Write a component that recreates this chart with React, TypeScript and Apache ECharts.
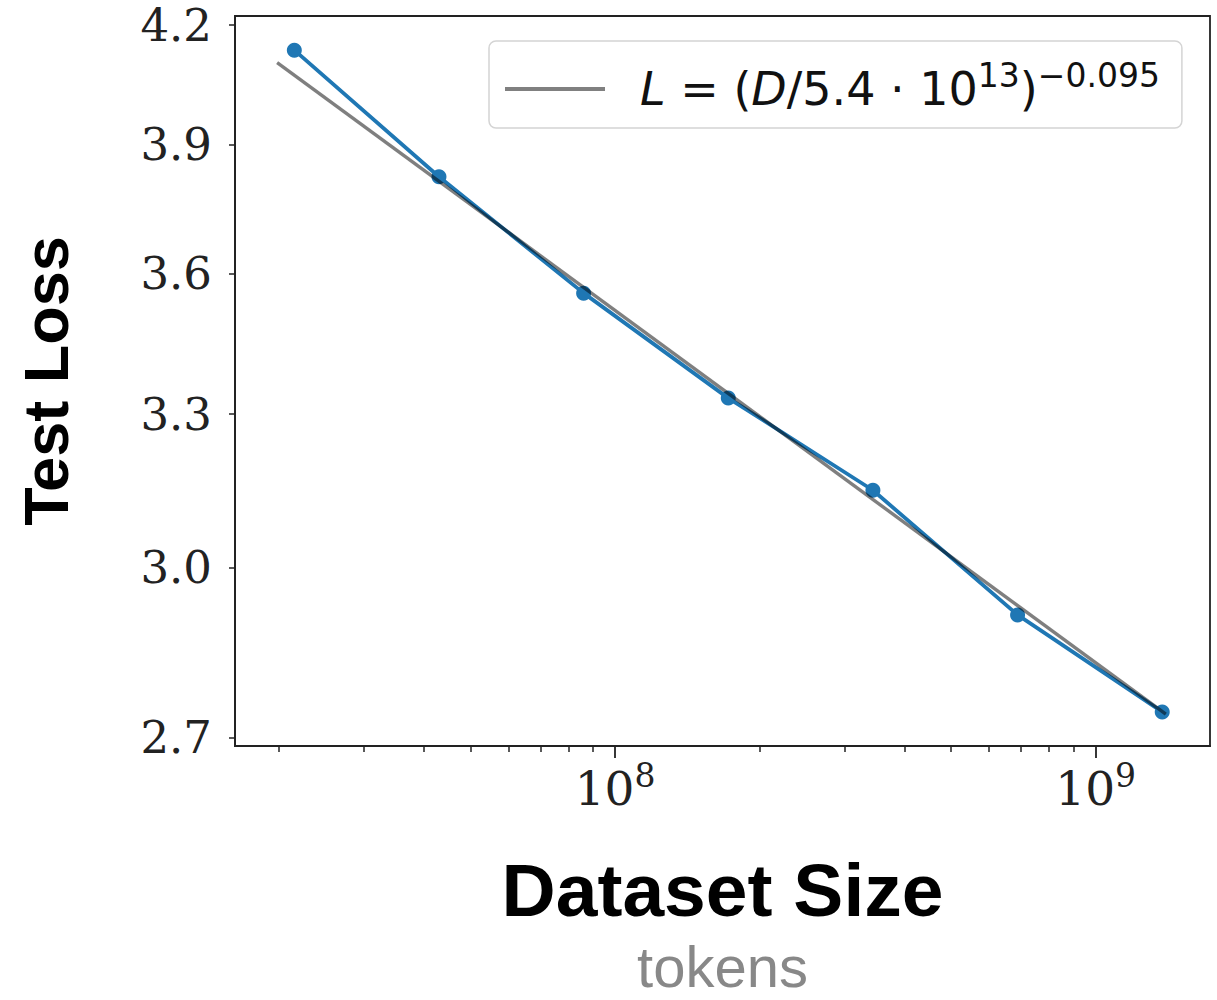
import React, { useEffect, useRef } from "react";
import * as echarts from "echarts";

// Measured points (dataset size in tokens, test loss)
const datasetTokens = [2.15e7, 4.3e7, 8.6e7, 1.72e8, 3.44e8, 6.88e8, 1.376e9];
const testLoss = [4.135, 3.823, 3.557, 3.333, 3.148, 2.914, 2.744];

// Power-law fit line endpoints
const fitTokens = [1.98e7, 1.4e9];
const fitLoss = [4.103, 2.74];

// Axis ticks
const yTickValues = [2.7, 3.0, 3.3, 3.6, 3.9, 4.2];
const xMajorTicks = [1e8, 1e9];
const xMinorTicks = [
  2e7, 3e7, 4e7, 5e7, 6e7, 7e7, 8e7, 9e7,
  2e8, 3e8, 4e8, 5e8, 6e8, 7e8, 8e8, 9e8,
];

const fitName = "L = (D/5.4 · 10^13)^−0.095";
const xTitle = "Dataset Size";
const xSubTitle = "tokens";
const yTitle = "Test Loss";

export default function App() {
  const ref = useRef<HTMLDivElement>(null);

  useEffect(() => {
    document.body.style.margin = "0";
    const chart = echarts.init(ref.current!, null, { renderer: "svg" });

    const xMin = 1.618e7;
    const xMax = 1.73e9;
    const yMin = 2.6866;
    const yMax = 4.2235;

    const serif = "DejaVu Serif";
    const sans = "Liberation Sans";

    const option: any = {
      animation: false,
      backgroundColor: "#ffffff",
      grid: {
        left: 235,
        top: 16,
        width: 975,
        height: 730,
        show: true,
        borderColor: "#222222",
        borderWidth: 1.8,
        backgroundColor: "transparent",
        containLabel: false,
        outerBoundsMode: "none",
      },
      legend: {
        show: true,
        data: [{ name: fitName, icon: "rect" }],
        left: 489,
        top: 41,
        orient: "horizontal",
        backgroundColor: "#ffffff",
        borderColor: "#d4d4d4",
        borderWidth: 1.5,
        borderRadius: 7,
        padding: [18, 22, 16, 16],
        itemWidth: 100,
        itemHeight: 4,
        selectedMode: false,
        itemStyle: { color: "#808080", borderWidth: 0 },
        formatter: () =>
          "{g|}{i|L}{m| = (}{i|D}{m|/5.4 · 10}{s|13}{m|)}{s|−0.095}",
        textStyle: {
          rich: {
            g: { width: 30 },
            m: { fontFamily: "DejaVu Sans", fontSize: 46, color: "#111", lineHeight: 60 },
            i: {
              fontFamily: "DejaVu Sans",
              fontSize: 46,
              fontStyle: "italic",
              color: "#111",
              lineHeight: 60,
            },
            s: {
              fontFamily: "DejaVu Sans",
              fontSize: 33,
              color: "#111",
              verticalAlign: "top",
              lineHeight: 32,
            },
          },
        },
      },
      xAxis: [
        {
          type: "log",
          logBase: 10,
          min: xMin,
          max: xMax,
          position: "bottom",
          name: "{a|" + xTitle + "}\n{b|" + xSubTitle + "}",
          nameLocation: "middle",
          nameGap: 100,
          nameTextStyle: {
            rich: {
              a: { fontFamily: sans, fontSize: 75, fontWeight: "bold", color: "#000", lineHeight: 88 },
              b: { fontFamily: sans, fontSize: 58, color: "#888888", lineHeight: 64 },
            },
          },
          axisLine: { show: true, lineStyle: { color: "#222222", width: 1.8 } },
          axisTick: {
            show: true,
            inside: false,
            length: 12,
            customValues: xMajorTicks,
            lineStyle: { color: "#222222", width: 1.8 },
          },
          axisLabel: {
            show: true,
            customValues: xMajorTicks,
            margin: 13,
            formatter: (v: number) => "{b|10}{s|" + Math.round(Math.log10(v)) + "}",
            rich: {
              b: { fontFamily: serif, fontSize: 47, color: "#222", lineHeight: 58 },
              s: { fontFamily: serif, fontSize: 33, color: "#222", verticalAlign: "top", lineHeight: 32 },
            },
          },
          splitLine: { show: false },
          minorTick: { show: false },
        },
        {
          type: "log",
          logBase: 10,
          min: xMin,
          max: xMax,
          position: "bottom",
          axisLine: { show: false },
          axisTick: {
            show: true,
            inside: false,
            length: 6,
            customValues: xMinorTicks,
            lineStyle: { color: "#222222", width: 1.5 },
          },
          axisLabel: { show: false },
          splitLine: { show: false },
        },
      ],
      yAxis: {
        type: "log",
        logBase: 10,
        min: yMin,
        max: yMax,
        name: yTitle,
        nameLocation: "middle",
        nameRotate: 90,
        nameGap: 158,
        nameTextStyle: { fontFamily: sans, fontSize: 63, fontWeight: "bold", color: "#000" },
        axisLine: { show: true, lineStyle: { color: "#222222", width: 1.8 } },
        axisTick: {
          show: true,
          length: 6,
          customValues: yTickValues,
          lineStyle: { color: "#222222", width: 1.5 },
        },
        axisLabel: {
          show: true,
          customValues: yTickValues,
          margin: 23,
          fontFamily: serif,
          fontSize: 45,
          color: "#222",
          formatter: (v: number) => Number(v).toFixed(1),
        },
        splitLine: { show: false },
      },
      series: [
        {
          name: "Data",
          type: "line",
          xAxisIndex: 0,
          data: datasetTokens.map((d, i) => [d, testLoss[i]]),
          symbol: "circle",
          symbolSize: 15,
          lineStyle: { color: "#1f77b4", width: 3.8 },
          itemStyle: { color: "#1f77b4" },
          z: 2,
        },
        {
          name: fitName,
          type: "line",
          xAxisIndex: 0,
          data: fitTokens.map((d, i) => [d, fitLoss[i]]),
          symbol: "none",
          lineStyle: { color: "rgba(0,0,0,0.5)", width: 3.4 },
          itemStyle: { color: "rgba(0,0,0,0.5)" },
          z: 3,
        },
      ],
    };

    chart.setOption(option);
    return () => chart.dispose();
  }, []);

  return <div ref={ref} style={{ width: 1217, height: 1000 }} />;
}
